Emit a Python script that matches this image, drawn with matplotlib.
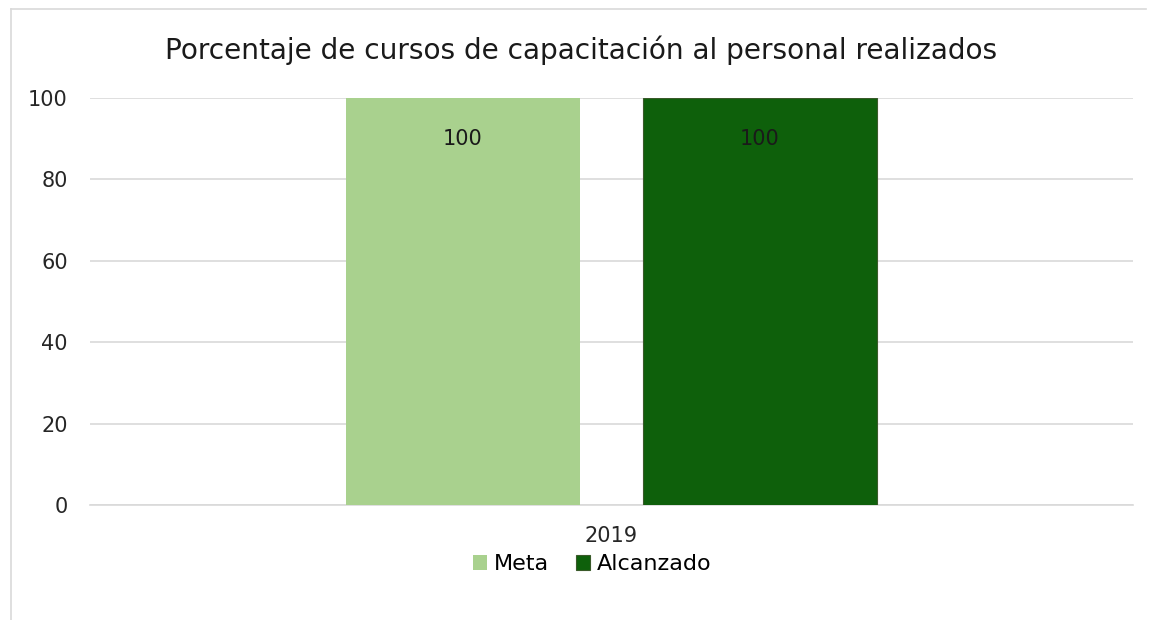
import matplotlib.pyplot as plt
from matplotlib.lines import Line2D
import numpy as np

plt.rcParams['font.family'] = ['DejaVu Sans']

categories = ['2019']
series_names = ['Meta', 'Alcanzado']
meta = [100]
alcanzado = [100]
yticks = [0, 20, 40, 60, 80, 100]

fig = plt.figure(figsize=(11.49, 6.2), dpi=100)
ax = fig.add_axes([90 / 1149, 1 - 505 / 620, (1133 - 90) / 1149, (505 - 98) / 620])

x = np.arange(len(categories))
w = 0.2244
off = 0.1424
b1 = ax.bar(x - off, meta, w, color='#A9D18E', label=series_names[0], zorder=3)
b2 = ax.bar(x + off, alcanzado, w, color='#0E600B', edgecolor='#3A5A2A', linewidth=0.8,
            label=series_names[1], zorder=3)
for bars in (b1, b2):
    for r in bars:
        ax.text(r.get_x() + r.get_width() / 2, r.get_height() - 10, f'{r.get_height():.0f}',
                ha='center', va='center', fontsize=15, color='#1a1a1a', zorder=4)

ax.set_xlim(-0.5, 0.5)
ax.set_ylim(0, 100)
ax.set_yticks(yticks)
ax.set_xticks(x)
ax.set_xticklabels(categories)
ax.tick_params(axis='both', length=0, labelsize=15, colors='#262626')
ax.tick_params(axis='y', pad=16)
ax.tick_params(axis='x', pad=15)
ax.yaxis.grid(True, color='#D9D9D9', linewidth=1.2, zorder=0)
for s in ['top', 'right', 'left']:
    ax.spines[s].set_visible(False)
ax.spines['bottom'].set_color('#D9D9D9')
ax.spines['bottom'].set_linewidth(1.2)

fig.text(581 / 1149, 1 - 50 / 620, 'Porcentaje de cursos de capacitación al personal realizados',
         ha='center', va='center', fontsize=20.2, color='#1a1a1a')

fig.legend(handles=[b1, b2], loc='center', bbox_to_anchor=(592 / 1149, 1 - 564 / 620), ncol=2,
           frameon=False, fontsize=16, handlelength=0.65, handleheight=0.65, handletextpad=0.3,
           columnspacing=1.2)

# chart frame
fig.add_artist(Line2D([11 / 1149, 11 / 1149], [0, 1 - 9 / 620], color='#D9D9D9', linewidth=1.2))
fig.add_artist(Line2D([11 / 1149, 1146 / 1149], [1 - 9 / 620, 1 - 9 / 620], color='#D9D9D9', linewidth=1.2))

fig.savefig('out.png', dpi=100)
